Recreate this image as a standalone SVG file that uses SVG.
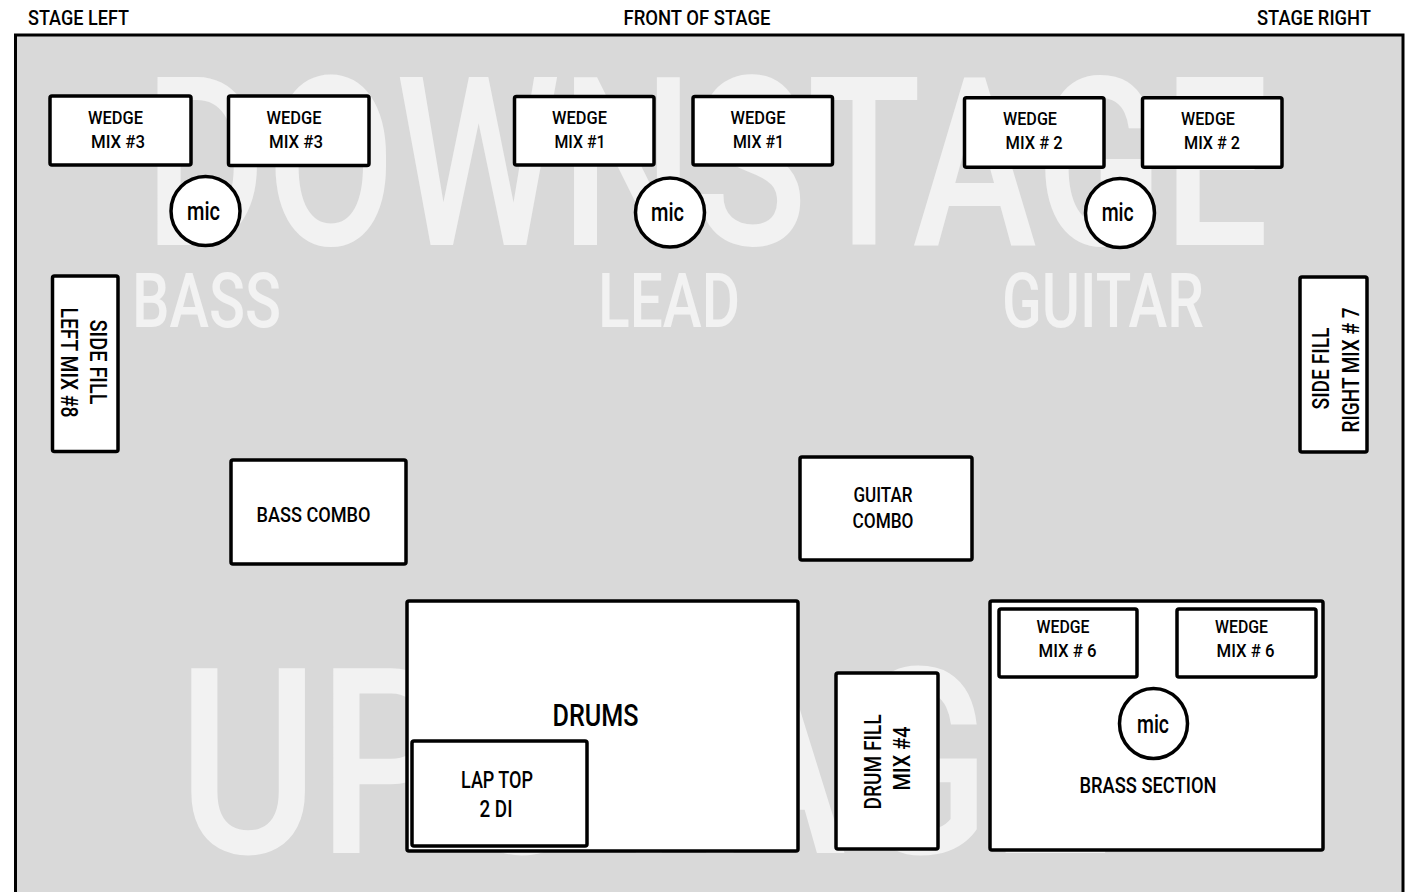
<svg xmlns="http://www.w3.org/2000/svg" width="1412" height="892" viewBox="0 0 1412 892">
<style>
text{font-family:Roboto,"Liberation Sans",sans-serif;fill:#000;font-weight:500;}
.hd{font-size:21px;}
.wm{fill:#f2f2f2;}
.box{fill:#fff;stroke:#000;stroke-width:3.5;}
.lbl{font-size:19px;text-anchor:middle;}
.mid{text-anchor:middle;}
.mic{font-size:26px;text-anchor:middle;}
</style>
<rect width="1412" height="892" fill="#fff"/>
<g id="stage">
<rect x="15.5" y="35" width="1387.5" height="900" fill="#d9d9d9" stroke="#000" stroke-width="3"/>
</g>
<g id="headers">
<text class="hd" x="28" y="25" textLength="101" lengthAdjust="spacingAndGlyphs">STAGE LEFT</text>
<text class="hd mid" x="697" y="25" textLength="147" lengthAdjust="spacingAndGlyphs">FRONT OF STAGE</text>
<text class="hd" x="1257" y="25" textLength="114" lengthAdjust="spacingAndGlyphs">STAGE RIGHT</text>
</g>
<g id="watermarks">
<text class="wm" x="144" y="245" font-size="236" textLength="1125" lengthAdjust="spacingAndGlyphs">DOWNSTAGE</text>
<text class="wm" x="132" y="327" font-size="76" textLength="149" lengthAdjust="spacingAndGlyphs">BASS</text>
<text class="wm" x="598" y="327" font-size="76" textLength="142" lengthAdjust="spacingAndGlyphs">LEAD</text>
<text class="wm" x="1002" y="327" font-size="76" textLength="202" lengthAdjust="spacingAndGlyphs">GUITAR</text>
<text class="wm" x="178" y="853" font-size="260" textLength="933" lengthAdjust="spacingAndGlyphs">UPSTAGE</text>
</g>
<g id="connectors"></g>
<g id="wedge-3a">
<rect class="box" x="50" y="96" width="141" height="69" rx="2"/>
<text class="lbl" x="115.5" y="123.5" textLength="55" lengthAdjust="spacingAndGlyphs">WEDGE</text>
<text class="lbl" x="118" y="148" textLength="54" lengthAdjust="spacingAndGlyphs">MIX #3</text>
</g>
<g id="wedge-3b">
<rect class="box" x="228.5" y="96" width="140.5" height="69.5" rx="2"/>
<text class="lbl" x="294" y="123.5" textLength="55" lengthAdjust="spacingAndGlyphs">WEDGE</text>
<text class="lbl" x="296" y="148" textLength="54" lengthAdjust="spacingAndGlyphs">MIX #3</text>
</g>
<g id="mic-bass">
<circle class="box" cx="205.5" cy="211" r="34.5"/>
<text class="mic" x="203.5" y="220" textLength="33" lengthAdjust="spacingAndGlyphs">mic</text>
</g>
<g id="wedge-1a">
<rect class="box" x="514.5" y="96.5" width="139.5" height="68.5" rx="2"/>
<text class="lbl" x="579.5" y="123.5" textLength="55" lengthAdjust="spacingAndGlyphs">WEDGE</text>
<text class="lbl" x="580" y="148" textLength="51" lengthAdjust="spacingAndGlyphs">MIX #1</text>
</g>
<g id="wedge-1b">
<rect class="box" x="693" y="96.5" width="139.5" height="68.5" rx="2"/>
<text class="lbl" x="758" y="123.5" textLength="55" lengthAdjust="spacingAndGlyphs">WEDGE</text>
<text class="lbl" x="758.5" y="148" textLength="51" lengthAdjust="spacingAndGlyphs">MIX #1</text>
</g>
<g id="mic-lead">
<circle class="box" cx="670" cy="212.5" r="34.5"/>
<text class="mic" x="667.5" y="221" textLength="33" lengthAdjust="spacingAndGlyphs">mic</text>
</g>
<g id="wedge-2a">
<rect class="box" x="964.5" y="97.8" width="139.5" height="69.5" rx="2"/>
<text class="lbl" x="1030" y="124.5" textLength="54" lengthAdjust="spacingAndGlyphs">WEDGE</text>
<text class="lbl" x="1034" y="149.3" textLength="57" lengthAdjust="spacingAndGlyphs">MIX # 2</text>
</g>
<g id="wedge-2b">
<rect class="box" x="1142.5" y="97.8" width="139.5" height="69.5" rx="2"/>
<text class="lbl" x="1208" y="124.5" textLength="54" lengthAdjust="spacingAndGlyphs">WEDGE</text>
<text class="lbl" x="1212" y="149.3" textLength="56" lengthAdjust="spacingAndGlyphs">MIX # 2</text>
</g>
<g id="mic-guitar">
<circle class="box" cx="1120" cy="213" r="34.5"/>
<text class="mic" x="1117.7" y="221" textLength="32" lengthAdjust="spacingAndGlyphs">mic</text>
</g>
<g id="side-fill-left">
<rect class="box" x="52.5" y="276" width="65.5" height="175.5" rx="2"/>
<text class="mid" font-size="24" transform="translate(90,362) rotate(90)" textLength="85" lengthAdjust="spacingAndGlyphs">SIDE FILL</text>
<text class="mid" font-size="24" transform="translate(61,362.5) rotate(90)" textLength="110" lengthAdjust="spacingAndGlyphs">LEFT MIX #8</text>
</g>
<g id="side-fill-right">
<rect class="box" x="1300" y="277" width="67" height="175" rx="2"/>
<text class="mid" font-size="24" transform="translate(1329,368.5) rotate(-90)" textLength="82" lengthAdjust="spacingAndGlyphs">SIDE FILL</text>
<text class="mid" font-size="24" transform="translate(1358.5,370) rotate(-90)" textLength="125" lengthAdjust="spacingAndGlyphs">RIGHT MIX # 7</text>
</g>
<g id="bass-combo">
<rect class="box" x="231" y="460" width="175" height="104" rx="2"/>
<text class="mid" font-size="21" x="313.5" y="522" textLength="114" lengthAdjust="spacingAndGlyphs">BASS COMBO</text>
</g>
<g id="guitar-combo">
<rect class="box" x="800" y="457" width="172" height="103" rx="2"/>
<text class="mid" font-size="21" x="883" y="502" textLength="59" lengthAdjust="spacingAndGlyphs">GUITAR</text>
<text class="mid" font-size="21" x="883" y="528" textLength="61" lengthAdjust="spacingAndGlyphs">COMBO</text>
</g>
<g id="drums">
<rect class="box" x="407" y="601" width="391" height="250" rx="2"/>
<text class="mid" font-size="32" x="595.5" y="726" textLength="86" lengthAdjust="spacingAndGlyphs">DRUMS</text>
</g>
<g id="laptop">
<rect class="box" x="412" y="741" width="175" height="105" rx="2"/>
<text class="mid" font-size="23" x="497" y="788" textLength="72" lengthAdjust="spacingAndGlyphs">LAP TOP</text>
<text class="mid" font-size="23" x="496" y="817" textLength="33" lengthAdjust="spacingAndGlyphs">2 DI</text>
</g>
<g id="drum-fill">
<rect class="box" x="836" y="673" width="102" height="176" rx="2"/>
<text class="mid" font-size="24" transform="translate(881,762) rotate(-90)" textLength="95" lengthAdjust="spacingAndGlyphs">DRUM FILL</text>
<text class="mid" font-size="24" transform="translate(910,758.5) rotate(-90)" textLength="64" lengthAdjust="spacingAndGlyphs">MIX #4</text>
</g>
<g id="brass-section">
<rect class="box" x="990" y="601" width="333" height="249" rx="2"/>
<text class="mid" font-size="22" x="1148" y="793" textLength="137" lengthAdjust="spacingAndGlyphs">BRASS SECTION</text>
</g>
<g id="wedge-6a">
<rect class="box" x="999" y="609" width="138" height="68" rx="2"/>
<text class="lbl" x="1063" y="633" textLength="53" lengthAdjust="spacingAndGlyphs">WEDGE</text>
<text class="lbl" x="1067.5" y="657" textLength="58" lengthAdjust="spacingAndGlyphs">MIX # 6</text>
</g>
<g id="wedge-6b">
<rect class="box" x="1177" y="609" width="139" height="68" rx="2"/>
<text class="lbl" x="1241.5" y="633" textLength="53" lengthAdjust="spacingAndGlyphs">WEDGE</text>
<text class="lbl" x="1245.5" y="657" textLength="58" lengthAdjust="spacingAndGlyphs">MIX # 6</text>
</g>
<g id="mic-brass">
<ellipse class="box" cx="1153.5" cy="723.5" rx="34" ry="35"/>
<text class="mic" x="1153" y="733" textLength="32" lengthAdjust="spacingAndGlyphs">mic</text>
</g>
</svg>
